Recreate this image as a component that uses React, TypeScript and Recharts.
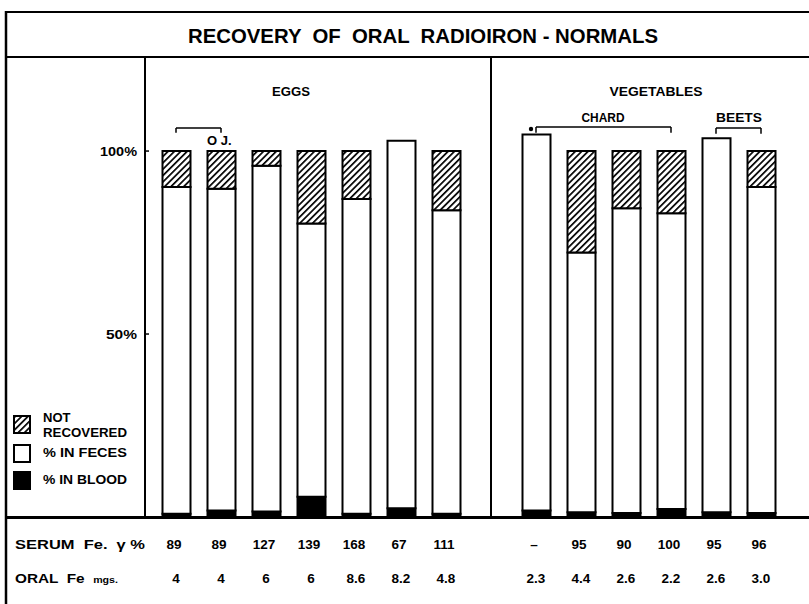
import React from 'react';
import { BarChart, Bar, XAxis, YAxis, ReferenceLine, Legend } from 'recharts';

// ---- data ----
const CATEGORIES = ['e1', 'e2', 'e3', 'e4', 'e5', 'e6', 'e7', 'gap', 'v1', 'v2', 'v3', 'v4', 'v5', 'v6'];
const BLOOD = [0.9, 1.8, 1.5, 5.5, 0.9, 2.4, 0.9, 0, 1.8, 1.3, 1.1, 2.2, 1.3, 1.1];
const FECES = [89.3, 87.9, 94.5, 74.7, 86.0, 100.4, 82.9, 0, 102.7, 71.0, 83.3, 80.8, 102.2, 89.1];
const NOT_RECOVERED = [9.8, 10.3, 4.0, 19.8, 13.1, 0, 16.2, 0, 0, 27.7, 15.6, 17.0, 0, 9.8];
const SERUM_FE = ['89', '89', '127', '139', '168', '67', '111', '', '–', '95', '90', '100', '95', '96'];
const ORAL_FE = ['4', '4', '6', '6', '8.6', '8.2', '4.8', '', '2.3', '4.4', '2.6', '2.2', '2.6', '3.0'];
const Y_TICKS = [50, 100];
const LEGEND_ITEMS = [
  { key: 'notRec', lines: ['NOT', 'RECOVERED'], fill: 'url(#hatchLegend)' },
  { key: 'feces', lines: ['% IN FECES'], fill: '#ffffff' },
  { key: 'blood', lines: ['% IN BLOOD'], fill: '#000000' },
];

const data = CATEGORIES.map((cat, i) => ({
  cat,
  blood: BLOOD[i],
  feces: FECES[i],
  notRec: NOT_RECOVERED[i],
}));

const FONT = '"Liberation Sans", Arial, sans-serif';

const XTick = (props: any) => {
  const { x, payload } = props;
  const i = CATEGORIES.indexOf(payload.value);
  return (
    <g>
      <text x={x - 2} y={549} textAnchor="middle" fontFamily={FONT} fontWeight="bold" fontSize={13.5} fill="#000">
        {SERUM_FE[i]}
      </text>
      <text x={x} y={583} textAnchor="middle" fontFamily={FONT} fontWeight="bold" fontSize={13.5} fill="#000">
        {ORAL_FE[i]}
      </text>
    </g>
  );
};

const YTick = (props: any) => {
  const { y, payload } = props;
  const label = `${payload.value}%`;
  return (
    <g>
      <text x={137} y={y + 4.5} textAnchor="end" fontFamily={FONT} fontWeight="bold" fontSize={13} fill="#000"
        textLength={label.length === 4 ? 37 : 31} lengthAdjust="spacingAndGlyphs">
        {label}
      </text>
      <line x1={145} x2={149} y1={y} y2={y} stroke="#000" strokeWidth={1.5} />
    </g>
  );
};

const LegendBox = () => {
  const ys = [11, 40, 67];
  return (
    <svg width={145} height={95} style={{ display: 'block' }}>
      <defs>
        <pattern id="hatchLegend" patternUnits="userSpaceOnUse" width={4.5} height={4.5} patternTransform="rotate(45)">
          <rect width={4.5} height={4.5} fill="#fff" />
          <line x1={0} y1={0} x2={0} y2={4.5} stroke="#000" strokeWidth={3.4} />
        </pattern>
      </defs>
      {LEGEND_ITEMS.map((it, k) => (
        <g key={it.key}>
          <rect x={14} y={ys[k]} width={16} height={17} fill={it.fill} stroke="#000" strokeWidth={2} />
          {it.lines.length === 2 ? (
            <>
              <text x={43} y={ys[k] + 6} fontFamily={FONT} fontWeight="bold" fontSize={13}>{it.lines[0]}</text>
              <text x={43} y={ys[k] + 21} fontFamily={FONT} fontWeight="bold" fontSize={13} textLength={84} lengthAdjust="spacingAndGlyphs">{it.lines[1]}</text>
            </>
          ) : (
            <text x={43} y={ys[k] + 12} fontFamily={FONT} fontWeight="bold" fontSize={13} textLength={84} lengthAdjust="spacingAndGlyphs" style={{ whiteSpace: 'pre' }}>{it.lines[0]}</text>
          )}
        </g>
      ))}
    </svg>
  );
};

const BR_Y = 106.6;
const BR_END = 105.0;

export default function App() {
  return (
    <div style={{ position: 'absolute', left: 0, top: 0, width: 809, height: 604, background: '#fff', overflow: 'hidden' }}>
      <BarChart
        width={809}
        height={604}
        data={data}
        margin={{ top: 57, right: 0, bottom: 0, left: 0 }}
        barSize={28}
        barGap={0}
      >
        <defs>
          <pattern id="hatch" patternUnits="userSpaceOnUse" width={4.5} height={4.5} patternTransform="rotate(45)">
            <rect width={4.5} height={4.5} fill="#fff" />
            <line x1={0} y1={0} x2={0} y2={4.5} stroke="#000" strokeWidth={3.4} />
          </pattern>
        </defs>
        <XAxis
          dataKey="cat"
          interval={0}
          axisLine={false}
          tickLine={false}
          height={87}
          padding={{ left: 8.5, right: 25.5 }}
          tick={<XTick />}
        />
        <YAxis
          width={145}
          domain={[0, 125.7]}
          ticks={Y_TICKS}
          allowDataOverflow
          axisLine={{ stroke: '#000', strokeWidth: 2 }}
          tickLine={false}
          tick={<YTick />}
        />
        <Legend
          layout="vertical"
          align="center"
          verticalAlign="middle"
          wrapperStyle={{ position: 'absolute', left: 0, top: 405, width: 145, height: 95 }}
          content={() => <LegendBox />}
        />
        <Bar dataKey="blood" stackId="a" fill="#000" stroke="#000" strokeWidth={2} isAnimationActive={false} />
        <Bar dataKey="feces" stackId="a" fill="#fff" stroke="#000" strokeWidth={2} isAnimationActive={false} />
        <Bar dataKey="notRec" stackId="a" fill="url(#hatch)" stroke="#000" strokeWidth={2} isAnimationActive={false} />
        <ReferenceLine x="gap" stroke="#000" strokeWidth={2} />
        {/* O.J. bracket */}
        <ReferenceLine segment={[{ x: 'e1', y: BR_Y - 0.3 }, { x: 'e2', y: BR_Y - 0.3 }]} stroke="#000" strokeWidth={1.5} />
        <ReferenceLine segment={[{ x: 'e1', y: BR_Y - 0.3 }, { x: 'e1', y: BR_END }]} stroke="#000" strokeWidth={1.5} />
        <ReferenceLine segment={[{ x: 'e2', y: BR_Y - 0.3 }, { x: 'e2', y: BR_END }]} stroke="#000" strokeWidth={1.5} />
        {/* CHARD bracket */}
        <ReferenceLine segment={[{ x: 'v1', y: BR_Y }, { x: 'v4', y: BR_Y }]} stroke="#000" strokeWidth={1.5} />
        <ReferenceLine segment={[{ x: 'v1', y: BR_Y }, { x: 'v1', y: BR_END }]} stroke="#000" strokeWidth={1.5} />
        <ReferenceLine segment={[{ x: 'v4', y: BR_Y }, { x: 'v4', y: BR_END }]} stroke="#000" strokeWidth={1.5} />
        {/* BEETS bracket */}
        <ReferenceLine segment={[{ x: 'v5', y: BR_Y - 0.3 }, { x: 'v6', y: BR_Y - 0.3 }]} stroke="#000" strokeWidth={1.5} />
        <ReferenceLine segment={[{ x: 'v5', y: BR_Y - 0.3 }, { x: 'v5', y: BR_END - 0.3 }]} stroke="#000" strokeWidth={1.5} />
        <ReferenceLine segment={[{ x: 'v6', y: BR_Y - 0.3 }, { x: 'v6', y: BR_END - 0.3 }]} stroke="#000" strokeWidth={1.5} />
      </BarChart>
      <svg width={809} height={604} style={{ position: 'absolute', left: 0, top: 0, pointerEvents: 'none' }}>
        {/* frame */}
        <line x1={6} y1={12} x2={809} y2={12} stroke="#000" strokeWidth={2} />
        <line x1={6} y1={11} x2={6} y2={604} stroke="#000" strokeWidth={2.5} />
        <line x1={6} y1={57} x2={809} y2={57} stroke="#000" strokeWidth={2} />
        <line x1={6} y1={517.5} x2={809} y2={517.5} stroke="#000" strokeWidth={3} />
        {/* title */}
        <text x={423} y={43} textAnchor="middle" fontFamily={FONT} fontWeight="bold" fontSize={20.5} textLength={470} lengthAdjust="spacingAndGlyphs" style={{ whiteSpace: 'pre' }}>
          RECOVERY  OF  ORAL  RADIOIRON - NORMALS
        </text>
        {/* group labels */}
        <text x={291} y={96} textAnchor="middle" fontFamily={FONT} fontWeight="bold" fontSize={13.5} textLength={38} lengthAdjust="spacingAndGlyphs">EGGS</text>
        <text x={656} y={96} textAnchor="middle" fontFamily={FONT} fontWeight="bold" fontSize={13.5} textLength={93} lengthAdjust="spacingAndGlyphs">VEGETABLES</text>
        <text x={603} y={122} textAnchor="middle" fontFamily={FONT} fontWeight="bold" fontSize={13.5} textLength={43} lengthAdjust="spacingAndGlyphs">CHARD</text>
        <text x={739} y={122} textAnchor="middle" fontFamily={FONT} fontWeight="bold" fontSize={13.5} textLength={46} lengthAdjust="spacingAndGlyphs">BEETS</text>
        <text x={207} y={145} fontFamily={FONT} fontWeight="bold" fontSize={13} style={{ whiteSpace: 'pre' }}>O J.</text>
        <circle cx={531} cy={129} r={2.2} fill="#000" />
        {/* row labels */}
        <text x={15} y={549} fontFamily={FONT} fontWeight="bold" fontSize={13} textLength={130} lengthAdjust="spacingAndGlyphs" style={{ whiteSpace: 'pre' }}>SERUM  Fe.  γ %</text>
        <text x={15} y={583} fontFamily={FONT} fontWeight="bold" fontSize={13} textLength={103} lengthAdjust="spacingAndGlyphs" style={{ whiteSpace: 'pre' }}>
          ORAL  Fe  <tspan fontSize={9}>mgs.</tspan>
        </text>
      </svg>
    </div>
  );
}
